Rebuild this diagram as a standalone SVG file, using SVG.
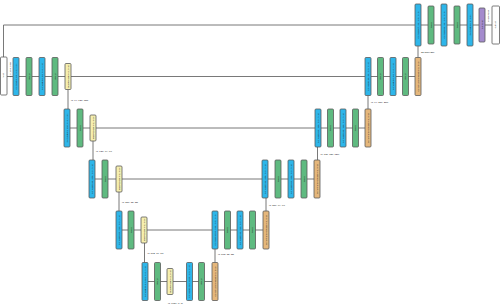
<svg xmlns="http://www.w3.org/2000/svg" width="500" height="306" viewBox="0 0 500 306">
<style>
.b{fill:#2eb6ea;stroke:#5a5a5a;stroke-width:0.8}
.g{fill:#5fba80;stroke:#5a5a5a;stroke-width:0.8}
.y{fill:#f6efb0;stroke:#5a5a5a;stroke-width:0.8}
.o{fill:#e5b77c;stroke:#5a5a5a;stroke-width:0.8}
.p{fill:#a48bcd;stroke:#5a5a5a;stroke-width:0.8}
.w{fill:#ffffff;stroke:#5a5a5a;stroke-width:0.8}
.t{font-family:"Liberation Sans",Arial,sans-serif;font-size:2.4px;fill:#222;text-anchor:middle;dominant-baseline:central}
.l{font-family:"Liberation Sans",Arial,sans-serif;font-size:2.4px;fill:#222;dominant-baseline:central}
.c{fill:none;stroke:#6a6a6a;stroke-width:0.9}
</style>
<g id="connectors">
<path class="c" d="M3.5 57V25H492"/>
<path class="c" d="M7 76.5H421"/>
<path class="c" d="M64 128H371"/>
<path class="c" d="M89 179H320"/>
<path class="c" d="M116 230H269"/>
<path class="c" d="M142 281.5H218"/>
<path class="c" d="M68 89.5V109"/>
<path class="c" d="M93 141V160"/>
<path class="c" d="M119 192V211"/>
<path class="c" d="M144.5 243V262.5"/>
<path class="c" d="M215 262.5V249"/>
<path class="c" d="M266 211V198"/>
<path class="c" d="M317.5 160V147"/>
<path class="c" d="M368 109V95.5"/>
<path class="c" d="M418 57.5V46"/>
<text class="l" x="71" y="100">[1, 64, 128, 128]</text>
<text class="l" x="96" y="151.5">[1, 128, 64, 64]</text>
<text class="l" x="122" y="202.5">[1, 256, 32, 32]</text>
<text class="l" x="147.5" y="253.5">[1, 512, 16, 16]</text>
<text class="l" x="168" y="303.5">[1, 1024, 8, 8]</text>
<text class="l" x="218" y="254">[1, 512, 32, 32]</text>
<text class="l" x="269" y="205">[1, 256, 64, 64]</text>
<text class="l" x="320.5" y="154">[1, 128, 128, 128]</text>
<text class="l" x="371" y="102.5">[1, 64, 256, 256]</text>
<text class="l" x="421" y="52.5">32×256×256</text>
<text class="t" transform="translate(10.3 70) rotate(-90)">[1, 3, 256, 256]</text>
<text class="t" transform="translate(488 16) rotate(-90)">1×256×256</text>
</g>
<g id="input"><rect class="w" x="0.5" y="57" width="6.5" height="38" rx="1"/><text class="t" transform="translate(3.75 76) rotate(-90)">input</text></g>
<g id="enc1_conv1"><rect class="b" x="13" y="57.5" width="6" height="38" rx="1"/><text class="t" transform="translate(16 76.5) rotate(-90)">Conv2d(3, 64, k=3, p=1)</text></g>
<g id="enc1_relu1"><rect class="g" x="26" y="57.5" width="6" height="38" rx="1"/><text class="t" transform="translate(29 76.5) rotate(-90)">ReLU</text></g>
<g id="enc1_conv2"><rect class="b" x="39" y="57.5" width="6" height="38" rx="1"/><text class="t" transform="translate(42 76.5) rotate(-90)">Conv2d(64, 64, k=3, p=1)</text></g>
<g id="enc1_relu2"><rect class="g" x="52" y="57.5" width="6" height="38" rx="1"/><text class="t" transform="translate(55 76.5) rotate(-90)">ReLU</text></g>
<g id="enc1_pool"><rect class="y" x="65" y="63.5" width="6" height="26" rx="1"/><text class="t" transform="translate(68 76.5) rotate(-90)">MaxPool2d(k=2, s=2)</text></g>
<g id="enc2_conv"><rect class="b" x="64" y="109" width="6" height="38" rx="1"/><text class="t" transform="translate(67 128) rotate(-90)">Conv2d(64, 128, k=3, p=1)</text></g>
<g id="enc2_relu"><rect class="g" x="77" y="109" width="6" height="38" rx="1"/><text class="t" transform="translate(80 128) rotate(-90)">ReLU</text></g>
<g id="enc2_pool"><rect class="y" x="90" y="115" width="6" height="26" rx="1"/><text class="t" transform="translate(93 128) rotate(-90)">MaxPool2d(k=2, s=2)</text></g>
<g id="enc3_conv"><rect class="b" x="89" y="160" width="6" height="38" rx="1"/><text class="t" transform="translate(92 179) rotate(-90)">Conv2d(128, 256, k=3, p=1)</text></g>
<g id="enc3_relu"><rect class="g" x="102" y="160" width="6" height="38" rx="1"/><text class="t" transform="translate(105 179) rotate(-90)">ReLU</text></g>
<g id="enc3_pool"><rect class="y" x="116" y="166" width="6" height="26" rx="1"/><text class="t" transform="translate(119 179) rotate(-90)">MaxPool2d(k=2, s=2)</text></g>
<g id="enc4_conv"><rect class="b" x="116" y="211" width="6" height="38" rx="1"/><text class="t" transform="translate(119 230) rotate(-90)">Conv2d(256, 512, k=3, p=1)</text></g>
<g id="enc4_relu"><rect class="g" x="128" y="211" width="6" height="38" rx="1"/><text class="t" transform="translate(131 230) rotate(-90)">ReLU</text></g>
<g id="enc4_pool"><rect class="y" x="141" y="217" width="6" height="26" rx="1"/><text class="t" transform="translate(144 230) rotate(-90)">MaxPool2d(k=2, s=2)</text></g>
<g id="bott_conv1"><rect class="b" x="142" y="262.5" width="6" height="38" rx="1"/><text class="t" transform="translate(145 281.5) rotate(-90)">Conv2d(512, 1024, k=3, p=1)</text></g>
<g id="bott_relu1"><rect class="g" x="154.5" y="262.5" width="6" height="38" rx="1"/><text class="t" transform="translate(157.5 281.5) rotate(-90)">ReLU</text></g>
<g id="bott_pool"><rect class="y" x="167" y="268.5" width="6" height="26" rx="1"/><text class="t" transform="translate(170 281.5) rotate(-90)">MaxPool2d(k=2, s=2)</text></g>
<g id="bott_conv2"><rect class="b" x="186.5" y="262.5" width="6" height="38" rx="1"/><text class="t" transform="translate(189.5 281.5) rotate(-90)">Conv2d(1024, 1024, k=3, p=1)</text></g>
<g id="bott_relu2"><rect class="g" x="198.5" y="262.5" width="6" height="38" rx="1"/><text class="t" transform="translate(201.5 281.5) rotate(-90)">ReLU</text></g>
<g id="bott_up"><rect class="o" x="212" y="262.5" width="6" height="38" rx="1"/><text class="t" transform="translate(215 281.5) rotate(-90)">ConvTranspose2d(k=2, s=2)</text></g>
<g id="dec4_conv1"><rect class="b" x="212" y="211" width="6" height="38" rx="1"/><text class="t" transform="translate(215 230) rotate(-90)">Conv2d(1024, 512, k=3, p=1)</text></g>
<g id="dec4_relu1"><rect class="g" x="224.5" y="211" width="6" height="38" rx="1"/><text class="t" transform="translate(227.5 230) rotate(-90)">ReLU</text></g>
<g id="dec4_conv2"><rect class="b" x="237" y="211" width="6" height="38" rx="1"/><text class="t" transform="translate(240 230) rotate(-90)">Conv2d(512, 512, k=3, p=1)</text></g>
<g id="dec4_relu2"><rect class="g" x="249.5" y="211" width="6" height="38" rx="1"/><text class="t" transform="translate(252.5 230) rotate(-90)">ReLU</text></g>
<g id="dec4_up"><rect class="o" x="263" y="211" width="6" height="38" rx="1"/><text class="t" transform="translate(266 230) rotate(-90)">ConvTranspose2d(k=2, s=2)</text></g>
<g id="dec3_conv1"><rect class="b" x="262" y="160" width="6" height="38" rx="1"/><text class="t" transform="translate(265 179) rotate(-90)">Conv2d(512, 256, k=3, p=1)</text></g>
<g id="dec3_relu1"><rect class="g" x="275" y="160" width="6" height="38" rx="1"/><text class="t" transform="translate(278 179) rotate(-90)">ReLU</text></g>
<g id="dec3_conv2"><rect class="b" x="288" y="160" width="6" height="38" rx="1"/><text class="t" transform="translate(291 179) rotate(-90)">Conv2d(256, 256, k=3, p=1)</text></g>
<g id="dec3_relu2"><rect class="g" x="301" y="160" width="6" height="38" rx="1"/><text class="t" transform="translate(304 179) rotate(-90)">ReLU</text></g>
<g id="dec3_up"><rect class="o" x="314" y="160" width="6" height="38" rx="1"/><text class="t" transform="translate(317 179) rotate(-90)">ConvTranspose2d(k=2, s=2)</text></g>
<g id="dec2_conv1"><rect class="b" x="315" y="109" width="6" height="38" rx="1"/><text class="t" transform="translate(318 128) rotate(-90)">Conv2d(256, 128, k=3, p=1)</text></g>
<g id="dec2_relu1"><rect class="g" x="327.5" y="109" width="6" height="38" rx="1"/><text class="t" transform="translate(330.5 128) rotate(-90)">ReLU</text></g>
<g id="dec2_conv2"><rect class="b" x="340" y="109" width="6" height="38" rx="1"/><text class="t" transform="translate(343 128) rotate(-90)">Conv2d(128, 128, k=3, p=1)</text></g>
<g id="dec2_relu2"><rect class="g" x="352.5" y="109" width="6" height="38" rx="1"/><text class="t" transform="translate(355.5 128) rotate(-90)">ReLU</text></g>
<g id="dec2_up"><rect class="o" x="365" y="109" width="6" height="38" rx="1"/><text class="t" transform="translate(368 128) rotate(-90)">ConvTranspose2d(k=2, s=2)</text></g>
<g id="dec1_conv1"><rect class="b" x="365" y="57.5" width="6" height="38" rx="1"/><text class="t" transform="translate(368 76.5) rotate(-90)">Conv2d(128, 64, k=3, p=1)</text></g>
<g id="dec1_relu1"><rect class="g" x="377.5" y="57.5" width="6" height="38" rx="1"/><text class="t" transform="translate(380.5 76.5) rotate(-90)">ReLU</text></g>
<g id="dec1_conv2"><rect class="b" x="390" y="57.5" width="6" height="38" rx="1"/><text class="t" transform="translate(393 76.5) rotate(-90)">Conv2d(64, 64, k=3, p=1)</text></g>
<g id="dec1_relu2"><rect class="g" x="402.5" y="57.5" width="6" height="38" rx="1"/><text class="t" transform="translate(405.5 76.5) rotate(-90)">ReLU</text></g>
<g id="dec1_up"><rect class="o" x="415" y="57.5" width="6" height="38" rx="1"/><text class="t" transform="translate(418 76.5) rotate(-90)">ConvTranspose2d(k=2, s=2)</text></g>
<g id="dec0_conv1"><rect class="b" x="415" y="4" width="6" height="42" rx="1"/><text class="t" transform="translate(418 25) rotate(-90)">Conv2d(67, 32, k=3, p=1)</text></g>
<g id="dec0_relu1"><rect class="g" x="428" y="6" width="6" height="38" rx="1"/><text class="t" transform="translate(431 25) rotate(-90)">ReLU</text></g>
<g id="dec0_conv2"><rect class="b" x="441" y="4" width="6" height="42" rx="1"/><text class="t" transform="translate(444 25) rotate(-90)">Conv2d(32, 32, k=3, p=1)</text></g>
<g id="dec0_relu2"><rect class="g" x="454" y="6" width="6" height="38" rx="1"/><text class="t" transform="translate(457 25) rotate(-90)">ReLU</text></g>
<g id="final_conv"><rect class="b" x="467" y="4" width="6" height="42" rx="1"/><text class="t" transform="translate(470 25) rotate(-90)">Conv2d(32, 1, k=1)</text></g>
<g id="sigmoid"><rect class="p" x="479" y="8" width="6" height="34" rx="1"/><text class="t" transform="translate(482 25) rotate(-90)">Sigmoid</text></g>
<g id="output"><rect class="w" x="492" y="6" width="7.5" height="38" rx="1"/><text class="t" transform="translate(495.75 25) rotate(-90)">output</text></g>
</svg>
